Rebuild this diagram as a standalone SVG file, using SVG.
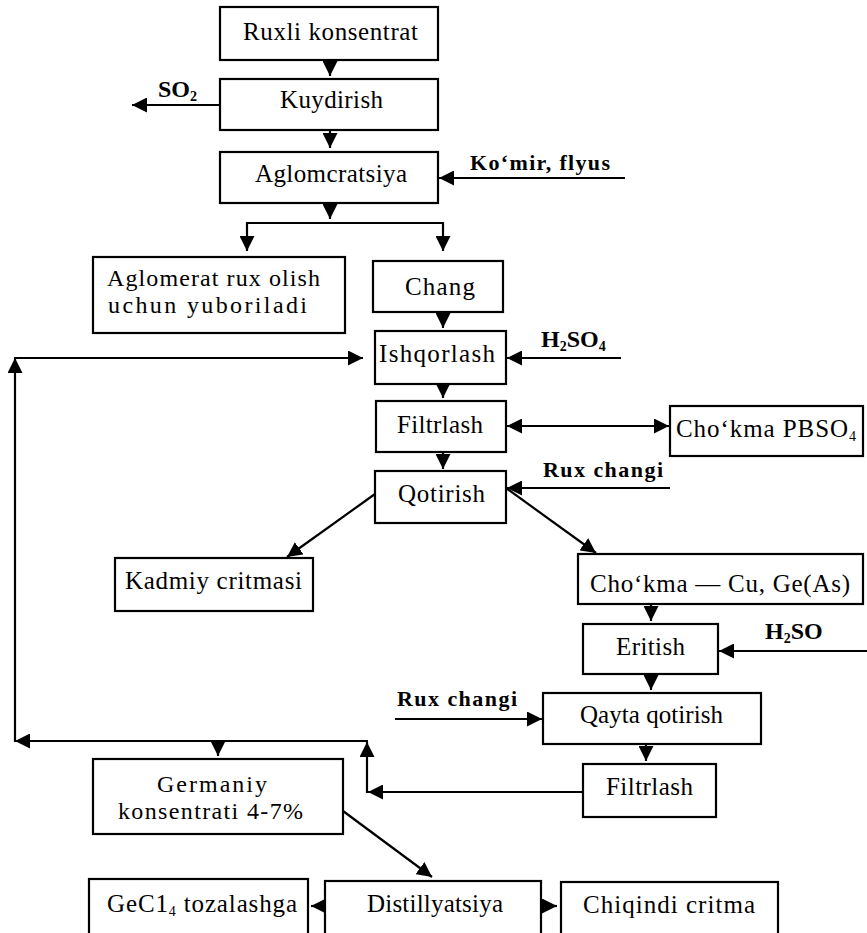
<svg xmlns="http://www.w3.org/2000/svg" width="867" height="933" viewBox="0 0 867 933">
<style>
.box{fill:#fff;stroke:#000;stroke-width:2.2}
.t{font-family:"Liberation Serif","Times New Roman",serif;font-size:25px;fill:#000}
.t2{font-family:"Liberation Serif","Times New Roman",serif;font-size:24px;fill:#000}
.b{font-family:"Liberation Serif","Times New Roman",serif;font-size:22px;font-weight:bold;fill:#000}
.bs{font-family:"Liberation Serif","Times New Roman",serif;font-size:24px;font-weight:bold;fill:#000}
.sub{font-size:14px}
.c path{fill:none;stroke:#000;stroke-width:2.2}
.c .a{marker-end:url(#ah)}
.c .d{marker-start:url(#ah);marker-end:url(#ah)}
</style>
<defs>
<marker id="ah" viewBox="0 0 10 10" refX="10" refY="5" markerWidth="15" markerHeight="15" markerUnits="userSpaceOnUse" orient="auto-start-reverse"><path d="M0,0 L10,5 L0,10 z" fill="#000"/></marker>
</defs>
<rect x="0" y="0" width="867" height="933" fill="#fff"/>

<g id="connectors" class="c">
<path class="a" d="M330,60 V76"/>
<path class="a" d="M330,130 V148"/>
<path class="a" d="M220,105 H132"/>
<path class="a" d="M625,178 H439"/>
<path class="a" d="M330,203 V219"/>
<path d="M247,223 H443"/>
<path class="a" d="M247,222 V251"/>
<path class="a" d="M443,222 V251"/>
<path class="a" d="M443,312 V328"/>
<path class="a" d="M443,384 V398"/>
<path class="a" d="M621,358 H507"/>
<path class="d" d="M507,426 H669"/>
<path class="a" d="M443,452 V469"/>
<path class="a" d="M670,488 H507"/>
<path class="a" d="M375,494 L287,557"/>
<path class="a" d="M506,488 L596,553"/>
<path class="a" d="M651,604 V621"/>
<path class="a" d="M867,651 H719"/>
<path class="a" d="M651,674 V690"/>
<path class="a" d="M395,719 H542"/>
<path class="a" d="M646,744 V761"/>
<path class="a" d="M583,792 H368"/>
<path class="a" d="M367,793 V742"/>
<path class="a" d="M368,741 H15"/>
<path class="a" d="M218,741 V756"/>
<path class="a" d="M15,742 V358"/>
<path class="a" d="M14,358 H363"/>
<path class="a" d="M343,811 L432,877"/>
<path class="a" d="M325,906 H311"/>
<path class="a" d="M541,906 H557"/>
</g>

<g id="n-ruxli">
<rect class="box" x="220" y="7" width="218" height="53"/>
<text class="t" x="243" y="40" textLength="175" lengthAdjust="spacing">Ruxli konsentrat</text>
</g>
<g id="n-kuydirish">
<rect class="box" x="220" y="79" width="218" height="51"/>
<text class="t" x="280" y="108" textLength="103" lengthAdjust="spacing">Kuydirish</text>
</g>
<g id="l-so2">
<text class="bs" x="158" y="97">SO<tspan class="sub" dy="4">2</tspan></text>
</g>
<g id="n-aglomeratsiya">
<rect class="box" x="220" y="152" width="218" height="51"/>
<text class="t" x="255" y="182" textLength="152" lengthAdjust="spacing">Aglomcratsiya</text>
</g>
<g id="l-komir">
<text class="b" x="470" y="170" textLength="140" lengthAdjust="spacing">Ko‘mir, flyus</text>
</g>
<g id="n-aglomerat">
<rect class="box" x="93" y="257" width="252" height="76"/>
<text class="t2" x="107" y="286" textLength="213" lengthAdjust="spacing">Aglomerat rux olish</text>
<text class="t2" x="108" y="313" textLength="199" lengthAdjust="spacing">uchun yuboriladi</text>
</g>
<g id="n-chang">
<rect class="box" x="373" y="261" width="130" height="51"/>
<text class="t" x="405" y="295" textLength="70" lengthAdjust="spacing">Chang</text>
</g>
<g id="n-ishqorlash">
<rect class="box" x="375" y="331" width="131" height="53"/>
<text class="t" x="379" y="362" textLength="116" lengthAdjust="spacing">Ishqorlash</text>
</g>
<g id="l-h2so4">
<text class="bs" x="541" y="347">H<tspan class="sub" dy="4">2</tspan><tspan dy="-4">SO</tspan><tspan class="sub" dy="4">4</tspan></text>
</g>
<g id="n-filtrlash1">
<rect class="box" x="376" y="401" width="130" height="51"/>
<text class="t" x="397" y="433" textLength="86" lengthAdjust="spacing">Filtrlash</text>
</g>
<g id="n-chokma-pbso4">
<rect class="box" x="670" y="406" width="193" height="50"/>
<text class="t" x="676" y="437" textLength="180" lengthAdjust="spacing">Cho‘kma  PBSO<tspan class="sub" dy="4">4</tspan></text>
</g>
<g id="n-qotirish">
<rect class="box" x="375" y="471" width="131" height="52"/>
<text class="t" x="398" y="502" textLength="87" lengthAdjust="spacing">Qotirish</text>
</g>
<g id="l-ruxchangi1">
<text class="b" x="543" y="477" textLength="120" lengthAdjust="spacing">Rux changi</text>
</g>
<g id="n-kadmiy">
<rect class="box" x="115" y="558" width="198" height="53"/>
<text class="t" x="125" y="589" textLength="177" lengthAdjust="spacing">Kadmiy critmasi</text>
</g>
<g id="n-chokma-cu">
<rect class="box" x="578" y="554" width="285" height="50"/>
<text class="t" x="590" y="592" textLength="260" lengthAdjust="spacing">Cho‘kma — Cu, Ge(As)</text>
</g>
<g id="n-eritish">
<rect class="box" x="583" y="624" width="135" height="50"/>
<text class="t" x="616" y="655" textLength="69" lengthAdjust="spacing">Eritish</text>
</g>
<g id="l-h2so">
<text class="bs" x="765" y="639">H<tspan class="sub" dy="4">2</tspan><tspan dy="-4">SO</tspan></text>
</g>
<g id="l-ruxchangi2">
<text class="b" x="397" y="706" textLength="120" lengthAdjust="spacing">Rux changi</text>
</g>
<g id="n-qayta">
<rect class="box" x="543" y="693" width="218" height="51"/>
<text class="t" x="580" y="723" textLength="143" lengthAdjust="spacing">Qayta qotirish</text>
</g>
<g id="n-filtrlash2">
<rect class="box" x="583" y="764" width="133" height="53"/>
<text class="t" x="606" y="795" textLength="87" lengthAdjust="spacing">Filtrlash</text>
</g>
<g id="n-germaniy">
<rect class="box" x="93" y="759" width="250" height="75"/>
<text class="t2" x="157" y="792" textLength="110" lengthAdjust="spacing">Germaniy</text>
<text class="t2" x="118" y="819" textLength="185" lengthAdjust="spacing">konsentrati 4-7%</text>
</g>
<g id="n-gecl4">
<rect class="box" x="89" y="879" width="219" height="60"/>
<text class="t" x="107" y="912" textLength="190" lengthAdjust="spacing">GeC1<tspan class="sub" dy="4">4</tspan><tspan dy="-4"> tozalashga</tspan></text>
</g>
<g id="n-distillyatsiya">
<rect class="box" x="325" y="881" width="216" height="60"/>
<text class="t" x="367" y="912" textLength="136" lengthAdjust="spacing">Distillyatsiya</text>
</g>
<g id="n-chiqindi">
<rect class="box" x="561" y="882" width="217" height="60"/>
<text class="t" x="583" y="913" textLength="172" lengthAdjust="spacing">Chiqindi critma</text>
</g>
</svg>
